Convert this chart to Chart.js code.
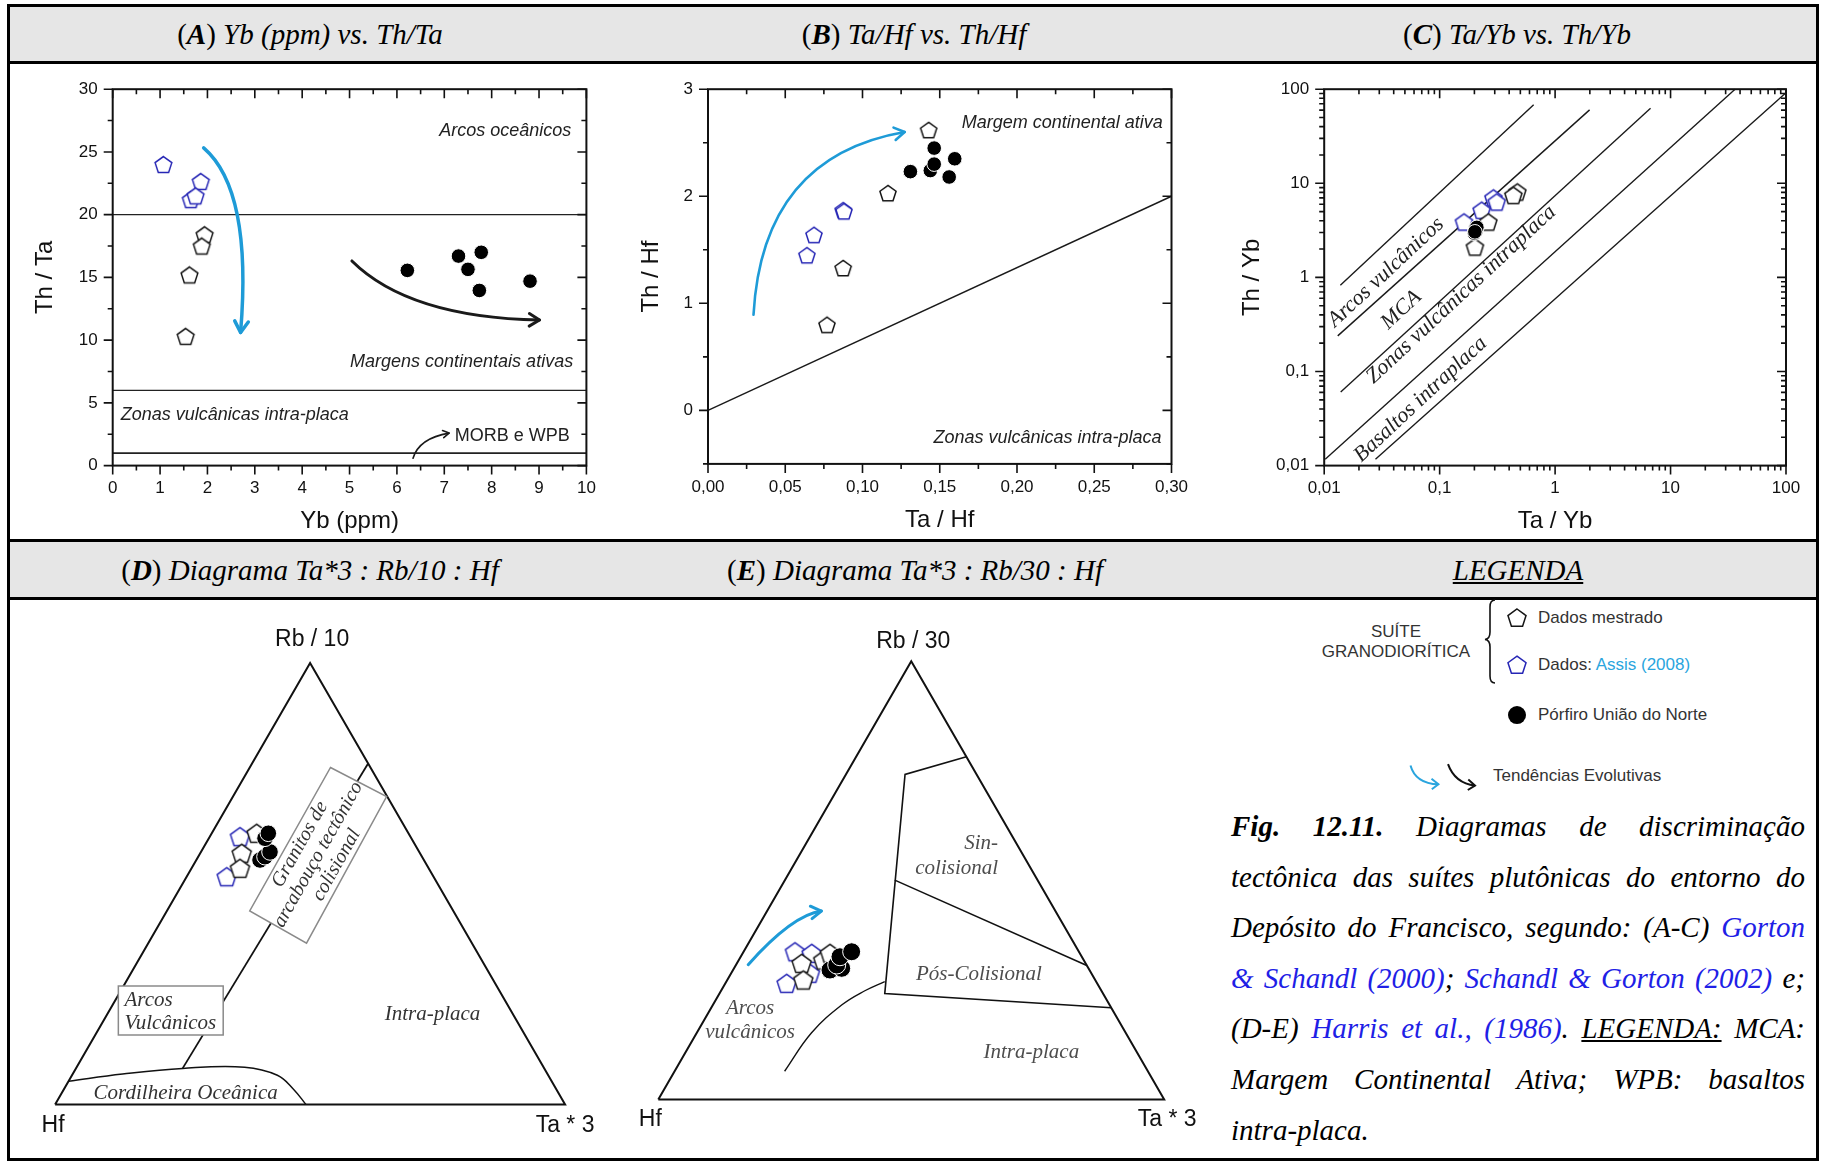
<!DOCTYPE html>
<html lang="pt">
<head>
<meta charset="utf-8">
<title>Fig. 12.11 - Diagramas de discriminação tectônica</title>
<script src="https://cdn.jsdelivr.net/npm/chart.js@4.4.1/dist/chart.umd.min.js"></script>
<style>
html,body{margin:0;padding:0;background:#fff;}
body{width:1825px;height:1161px;position:relative;overflow:hidden;font-family:"Liberation Sans",Arial,sans-serif;color:#111;}
#frame{position:absolute;left:7px;top:4px;width:1812px;height:1157px;border:3px solid #000;box-sizing:border-box;}
.band{position:absolute;left:10px;width:1806px;background:#e6e6e6;}
.rule{position:absolute;left:10px;width:1806px;height:3px;background:#000;}
.ht{position:absolute;width:600px;height:36px;line-height:36px;text-align:center;white-space:nowrap;font-family:"Liberation Serif","Times New Roman",serif;font-style:italic;font-size:29px;color:#000;}
.ht .p{font-style:normal;}
canvas{position:absolute;}
.lg{position:absolute;font-size:17px;color:#333;white-space:nowrap;line-height:20px;}
.cap{position:absolute;left:1231px;top:801px;width:574px;font-family:"Liberation Serif","Times New Roman",serif;font-style:italic;font-size:29px;line-height:50.6px;color:#000;}
.cap .j{text-align:justify;text-align-last:justify;}
.lk{color:#1f1fe6;}
</style>
</head>
<body>
<div class="band" style="top:7px;height:54px"></div>
<div class="rule" style="top:61px"></div>
<div class="rule" style="top:539px"></div>
<div class="band" style="top:542px;height:55px"></div>
<div class="rule" style="top:597px"></div>
<div id="frame"></div>

<div class="ht" style="left:10px;top:16px"><span class="p">(</span><b>A</b><span class="p">)</span> Yb (ppm) vs. Th/Ta</div>
<div class="ht" style="left:614px;top:16px"><span class="p">(</span><b>B</b><span class="p">)</span> Ta/Hf vs. Th/Hf</div>
<div class="ht" style="left:1217px;top:16px"><span class="p">(</span><b>C</b><span class="p">)</span> Ta/Yb vs. Th/Yb</div>
<div class="ht" style="left:10px;top:552px"><span class="p">(</span><b>D</b><span class="p">)</span> Diagrama Ta*3 : Rb/10 : Hf</div>
<div class="ht" style="left:615px;top:552px"><span class="p">(</span><b>E</b><span class="p">)</span> Diagrama Ta*3 : Rb/30 : Hf</div>
<div class="ht" style="left:1218px;top:552px"><u>LEGENDA</u></div>

<canvas id="cA"></canvas>
<canvas id="cB"></canvas>
<canvas id="cC"></canvas>
<canvas id="cD"></canvas>
<canvas id="cE"></canvas>

<!-- Legend -->
<div class="lg" style="left:1296px;top:622px;width:200px;text-align:center;">SUÍTE<br>GRANODIORÍTICA</div>
<svg style="position:absolute;left:1480px;top:597px" width="20" height="90">
  <path d="M15 3 Q10 3 10 10 L10 35 Q10 42 5 42.5 Q10 43 10 50 L10 79 Q10 86 15 86" fill="none" stroke="#111" stroke-width="1.6"/>
</svg>
<svg style="position:absolute;left:1400px;top:595px" width="200" height="200">
  <g transform="translate(117,23.5)"><polygon points="0,-9.5 9.035,-2.936 5.584,7.686 -5.584,7.686 -9.035,-2.936" fill="#fff" stroke="#151515" stroke-width="1.5"/></g>
  <g transform="translate(117,70.6)"><polygon points="0,-9.5 9.035,-2.936 5.584,7.686 -5.584,7.686 -9.035,-2.936" fill="#fff" stroke="#2626b5" stroke-width="1.5"/></g>
  <circle cx="117" cy="120.1" r="9" fill="#000"/>
  <path d="M10.5 170.4 Q15.5 188.5 38.4 189.3" fill="none" stroke="#2aa5de" stroke-width="2"/>
  <polyline points="31.5,183.8 38.4,189.3 31.8,194.3" fill="none" stroke="#2aa5de" stroke-width="2"/>
  <path d="M48 169.2 Q55 188.5 75 190.5" fill="none" stroke="#111" stroke-width="2"/>
  <polyline points="68.3,184.6 75,190.5 67.8,195" fill="none" stroke="#111" stroke-width="2"/>
</svg>
<div class="lg" style="left:1538px;top:608px">Dados mestrado</div>
<div class="lg" style="left:1538px;top:655px">Dados: <span style="color:#2aa5de">Assis (2008)</span></div>
<div class="lg" style="left:1538px;top:705px">Pórfiro União do Norte</div>
<div class="lg" style="left:1493px;top:766px">Tendências Evolutivas</div>

<div class="cap">
<div class="j"><b>Fig. 12.11.</b> Diagramas de discriminação</div>
<div class="j">tectônica das suítes plutônicas do entorno do</div>
<div class="j">Depósito do Francisco, segundo: (A-C) <span class="lk">Gorton</span></div>
<div class="j"><span class="lk">&amp; Schandl (2000)</span>; <span class="lk">Schandl &amp; Gorton (2002)</span> e;</div>
<div class="j">(D-E) <span class="lk">Harris et al., (1986)</span>. <u>LEGENDA:</u> MCA:</div>
<div class="j">Margem Continental Ativa; WPB: basaltos</div>
<div>intra-placa.</div>
</div>

<script>
// ======================= DATA =======================
// (A) Yb (ppm) vs. Th/Ta
const aMestradoYb   = [1.94, 1.88, 1.62, 1.54];
const aMestradoThTa = [18.4, 17.5, 15.2, 10.3];
const aAssisYb      = [1.07, 1.86, 1.65, 1.75];
const aAssisThTa    = [24.0, 22.65, 21.2, 21.5];
const aPorfiroYb    = [6.22, 7.30, 7.78, 7.50, 7.74, 8.81];
const aPorfiroThTa  = [15.56, 16.7, 17.0, 15.64, 13.96, 14.7];
const aLimitsThTa   = [20, 6, 1];
const aRangeYb      = [0, 10];
const aTickYb       = [0, 1, 2, 3, 4, 5, 6, 7, 8, 9, 10];
const aTickThTa     = [0, 5, 10, 15, 20, 25, 30];

// (B) Ta/Hf vs. Th/Hf
const bMestradoTaHf = [0.1428, 0.1165, 0.0875, 0.0770];
const bMestradoThHf = [2.62, 2.03, 1.33, 0.80];
const bAssisTaHf    = [0.0875, 0.0880, 0.0686, 0.0640];
const bAssisThHf    = [1.87, 1.86, 1.64, 1.45];
const bPorfiroTaHf  = [0.1310, 0.1439, 0.1464, 0.1464, 0.1597, 0.1561];
const bPorfiroThHf  = [2.23, 2.24, 2.30, 2.45, 2.35, 2.18];
const bLimitTaHf    = [0, 0.30];
const bLimitThHf    = [0, 2.0];
const bTickTaHf     = [0, 0.05, 0.10, 0.15, 0.20, 0.25, 0.30];
const bTickTaHfLbl  = ['0,00', '0,05', '0,10', '0,15', '0,20', '0,25', '0,30'];
const bTickThHf     = [0, 1, 2, 3];

// (C) Ta/Yb vs. Th/Yb (log-log)
const cMestradoTaYb = [0.471, 0.435, 0.264, 0.202];
const cMestradoThYb = [8.1, 7.47, 3.89, 2.11];
const cAssisTaYb    = [0.292, 0.312, 0.231, 0.1625];
const cAssisThYb    = [7.0, 6.34, 5.18, 3.89];
const cPorfiroTaYb  = [0.200, 0.203, 0.207, 0.205, 0.210, 0.202];
const cPorfiroThYb  = [2.95, 3.20, 3.15, 3.30, 3.40, 3.05];
const cLinesTaYb    = [[0.0138, 0.652], [0.0131, 1.99], [0.0139, 6.71], [0.0102, 36.2], [0.0278, 100]];
const cLinesThYb    = [[0.824, 68.4], [0.239, 60.3], [0.0605, 62.9], [0.0117, 100], [0.0117, 91.9]];
const cTicks        = [0.01, 0.1, 1, 10, 100];
const cTickLbl      = ['0,01', '0,1', '1', '10', '100'];

// (D) Ta*3 : Rb/10 : Hf   (fractions [Hf, Rb/10, Ta*3])
const dTriangle     = [[1, 0, 0], [0, 1, 0], [0, 0, 1], [1, 0, 0]];
const dLimit        = [[0.709, 0.082, 0.209], [0, 0.7725, 0.2275]];
const dCordilheira  = [[0.947, 0.053, 0], [0.833, 0.0693, 0.0977], [0.709, 0.082, 0.209], [0.586, 0.0846, 0.3294], [0.531, 0.0664, 0.4026], [0.515, 0.0344, 0.4506], [0.508, 0, 0.492]];
const dMestrado     = [[0.2976, 0.6143, 0.0881], [0.3496, 0.569, 0.0814], [0.370, 0.535, 0.095]];
const dAssis        = [[0.3342, 0.6066, 0.0592], [0.4055, 0.516, 0.0785]];
const dPorfiro      = [[0.3213, 0.5538, 0.1249], [0.3078, 0.5613, 0.1309], [0.2926, 0.572, 0.1354], [0.2869, 0.603, 0.1101], [0.2748, 0.6143, 0.1109]];

// (E) Ta*3 : Rb/30 : Hf   (fractions [Hf, Rb/30, Ta*3])
const eTriangle     = [[1, 0, 0], [0, 1, 0], [0, 0, 1], [1, 0, 0]];
const eLimitMain    = [[0, 0.782, 0.218], [0.1413, 0.7419, 0.1168], [0.4316, 0.2415, 0.3269], [0, 0.2092, 0.7908]];
const eLimitSinPos  = [[0.2823, 0.5005, 0.2172], [0, 0.3058, 0.6942]];
const eLimitArc     = [[0.7182, 0.0643, 0.2175], [0.6217, 0.1515, 0.2268], [0.529, 0.2159, 0.2551], [0.4677, 0.248, 0.2843], [0.4179, 0.269, 0.3131]];
const eAssis        = [[0.5613, 0.337, 0.1017], [0.530, 0.3334, 0.1365], [0.6138, 0.2649, 0.1213], [0.5563, 0.2878, 0.1559]];
const eMestrado     = [[0.5613, 0.3106, 0.1281], [0.5772, 0.2725, 0.1503], [0.5149, 0.3181, 0.167], [0.494, 0.3334, 0.1726]];
const ePorfiro      = [[0.513, 0.2953, 0.1917], [0.4879, 0.2992, 0.2129], [0.494, 0.3067, 0.1993], [0.4781, 0.3256, 0.1963], [0.4493, 0.337, 0.2137]];

// ======================= HELPERS =======================
const SQ3 = Math.sqrt(3) / 2;
const SANS = "'Liberation Sans', Arial, sans-serif";
const SERIF = "'Liberation Serif', 'Times New Roman', serif";
const BLUE_ARROW = '#1e9bd7';
Chart.defaults.font.family = SANS;
Chart.defaults.color = '#111';

function pairs(xs, ys) { return xs.map((x, i) => ({x: x, y: ys[i]})); }
function tern(p) { const s = p[0] + p[1] + p[2]; const rb = p[1] / s, ta = p[2] / s; return {x: ta + rb / 2, y: rb * SQ3}; }
function seq(a, b, s) { const r = []; for (let v = a; v <= b + 1e-9; v += s) r.push(+v.toFixed(6)); return r; }
function logMinor(decs) { const r = []; decs.forEach(d => { for (let k = 2; k <= 9; k++) r.push(+(d * k).toPrecision(6)); }); return r; }

function pentagon(r, color, lw) {
  const s = Math.ceil(2 * r + 2 * lw + 2);
  const c = document.createElement('canvas'); c.width = s; c.height = s;
  const g = c.getContext('2d');
  const cx = s / 2, cy = s / 2 + r * 0.095;
  g.beginPath();
  for (let k = 0; k < 5; k++) {
    const a = -Math.PI / 2 + k * 2 * Math.PI / 5;
    const px = cx + r * Math.cos(a), py = cy + r * Math.sin(a);
    if (k) g.lineTo(px, py); else g.moveTo(px, py);
  }
  g.closePath(); g.fillStyle = '#fff'; g.fill();
  g.lineWidth = lw; g.strokeStyle = color; g.lineJoin = 'miter'; g.stroke();
  return c;
}
function penSet(data, r, color, order, label, extra) {
  return Object.assign({label: label, data: data, pointStyle: pentagon(r, color, 1.5), pointRadius: r, showLine: false, order: order, clip: false}, extra || {});
}
function circSet(data, r, label) {
  return {label: label, data: data, pointStyle: 'circle', pointRadius: r, pointBackgroundColor: '#000', pointBorderColor: '#fff', pointBorderWidth: 1, showLine: false, order: 1, clip: false};
}
function lineSet(data, w, color, tension) {
  return {data: data, showLine: true, pointRadius: 0, borderColor: color || '#1a1a1a', borderWidth: w, tension: tension || 0, fill: false, order: 10, clip: false};
}

// tick-mark configuration per chart (drawn inside on top/right, outside on bottom/left)
const TICKS = {
  cA: {x: {maj: seq(0, 10, 1), min: seq(0.5, 9.5, 1)}, y: {maj: seq(0, 30, 5), min: seq(2.5, 27.5, 5)}},
  cB: {x: {maj: seq(0, 0.3, 0.05), min: seq(0.025, 0.275, 0.05)}, y: {maj: seq(0, 3, 1), min: seq(-0.5, 2.5, 1)}},
  cC: {x: {maj: cTicks, min: logMinor([0.01, 0.1, 1, 10])}, y: {maj: cTicks, min: logMinor([0.01, 0.1, 1, 10])}}
};

const fontItSans = "italic 18px " + SANS;
const fontSans = "18px " + SANS;
const fontItSerif = "italic 21px " + SERIF;
const ANNOTS = {
  cA: [
    {t: 'arrow', p0: [1.92, 25.32], c: [2.95, 21.97], p1: [2.70, 10.61], color: BLUE_ARROW, lw: 3.5, head: 13},
    {t: 'arrow', p0: [5.05, 16.31], c: [6.25, 11.82], p1: [9.01, 11.6], color: '#1a1a1a', lw: 3, head: 12},
    {t: 'arrow', p0: [6.34, 0.59], c: [6.47, 2.19], p1: [7.10, 2.59], color: '#1a1a1a', lw: 1.6, head: 7},
    {t: 'text', x: 9.68, y: 26.65, text: 'Arcos oceânicos', align: 'right', font: fontItSans},
    {t: 'text', x: 9.72, y: 8.26, text: 'Margens continentais ativas', align: 'right', font: fontItSans},
    {t: 'text', x: 0.17, y: 4.06, text: 'Zonas vulcânicas intra-placa', align: 'left', font: fontItSans},
    {t: 'text', x: 7.22, y: 2.32, text: 'MORB e WPB', align: 'left', font: fontSans}
  ],
  cB: [
    {t: 'arrow', p0: [0.02945, 0.893], c: [0.0352, 2.37], p1: [0.1273, 2.60], color: BLUE_ARROW, lw: 2.6, head: 12},
    {t: 'text', x: 0.2944, y: 2.68, text: 'Margem continental ativa', align: 'right', font: fontItSans},
    {t: 'text', x: 0.2936, y: -0.26, text: 'Zonas vulcânicas intra-placa', align: 'right', font: fontItSans}
  ],
  cC: [
    {t: 'text', x: 0.0343, y: 1.13, text: 'Arcos vulcânicos', rot: -43, font: "italic 22px " + SERIF},
    {t: 'text', x: 0.0466, y: 0.45, text: 'MCA', rot: -43, font: "italic 22px " + SERIF},
    {t: 'text', x: 0.1535, y: 0.656, text: 'Zonas vulcânicas intraplaca', rot: -43, font: "italic 22px " + SERIF},
    {t: 'text', x: 0.0684, y: 0.0504, text: 'Basaltos intraplaca', rot: -43, font: "italic 22px " + SERIF}
  ],
  cD: [
    {t: 'box', pts: [[0.540, 0.661], [0.650, 0.604], [0.493, 0.3166], [0.3816, 0.3798]], stroke: '#8a8a8a', lw: 1.5},
    {t: 'text', x: 0.516, y: 0.490, lines: ['Granitos de', 'arcabouço tectônico', 'colisional'], lh: 21, rot: -60.7, font: "italic 20px " + SERIF, color: '#333'},
    {t: 'box', pts: [[0.124, 0.2327], [0.3296, 0.2327], [0.3296, 0.1365], [0.124, 0.1365]], stroke: '#8a8a8a', lw: 1.5},
    {t: 'text', x: 0.136, y: 0.2035, text: 'Arcos', align: 'left', font: fontItSerif, color: '#333'},
    {t: 'text', x: 0.136, y: 0.160, text: 'Vulcânicos', align: 'left', font: fontItSerif, color: '#333'},
    {t: 'text', x: 0.740, y: 0.176, text: 'Intra-placa', font: fontItSerif, color: '#333'},
    {t: 'text', x: 0.256, y: 0.022, text: 'Cordilheira Oceânica', font: fontItSerif, color: '#333'},
    {t: 'text', x: 0.5, y: SQ3, dx: 2, dy: -23, text: 'Rb / 10', font: "23px " + SANS, color: '#111'},
    {t: 'text', x: 0, y: 0, dx: -2, dy: 21, text: 'Hf', font: "23px " + SANS, color: '#111'},
    {t: 'text', x: 1, y: 0, dx: 0, dy: 21, text: 'Ta * 3', font: "23px " + SANS, color: '#111'}
  ],
  cE: [
    {t: 'arrow', p0: [0.1777, 0.2664], c: [0.2654, 0.3645], p1: [0.3223, 0.3723], color: BLUE_ARROW, lw: 3, head: 12},
    {t: 'text', x: 0.6716, y: 0.505, text: 'Sin-', align: 'right', font: fontItSerif, color: '#4d4d4d'},
    {t: 'text', x: 0.6716, y: 0.4573, text: 'colisional', align: 'right', font: fontItSerif, color: '#4d4d4d'},
    {t: 'text', x: 0.6338, y: 0.2464, text: 'Pós-Colisional', font: fontItSerif, color: '#4d4d4d'},
    {t: 'text', x: 0.7374, y: 0.0931, text: 'Intra-placa', font: fontItSerif, color: '#4d4d4d'},
    {t: 'text', x: 0.1814, y: 0.1806, text: 'Arcos', font: fontItSerif, color: '#4d4d4d'},
    {t: 'text', x: 0.1814, y: 0.1328, text: 'vulcânicos', font: fontItSerif, color: '#4d4d4d'},
    {t: 'text', x: 0.5, y: SQ3, dx: 2, dy: -20, text: 'Rb / 30', font: "23px " + SANS, color: '#111'},
    {t: 'text', x: 0, y: 0, dx: -8, dy: 20, text: 'Hf', font: "23px " + SANS, color: '#111'},
    {t: 'text', x: 1, y: 0, dx: 3, dy: 20, text: 'Ta * 3', font: "23px " + SANS, color: '#111'}
  ]
};

function drawArrow(ctx, P0, C, P1, color, lw, head) {
  ctx.save();
  ctx.strokeStyle = color; ctx.lineWidth = lw; ctx.lineCap = 'round'; ctx.lineJoin = 'round';
  ctx.beginPath(); ctx.moveTo(P0.x, P0.y); ctx.quadraticCurveTo(C.x, C.y, P1.x, P1.y); ctx.stroke();
  const ang = Math.atan2(P1.y - C.y, P1.x - C.x);
  ctx.beginPath();
  ctx.moveTo(P1.x - head * Math.cos(ang - 0.55), P1.y - head * Math.sin(ang - 0.55));
  ctx.lineTo(P1.x, P1.y);
  ctx.lineTo(P1.x - head * Math.cos(ang + 0.55), P1.y - head * Math.sin(ang + 0.55));
  ctx.stroke();
  ctx.restore();
}
function drawText(ctx, px, py, a) {
  ctx.save();
  ctx.translate(px + (a.dx || 0), py + (a.dy || 0));
  if (a.rot) ctx.rotate(a.rot * Math.PI / 180);
  ctx.font = a.font; ctx.fillStyle = a.color || '#222';
  ctx.textAlign = a.align || 'center'; ctx.textBaseline = 'middle';
  const lines = a.lines || [a.text]; const lh = a.lh || 0;
  lines.forEach((l, i) => ctx.fillText(l, 0, (i - (lines.length - 1) / 2) * lh));
  ctx.restore();
}
function drawAnnots(chart) {
  const list = ANNOTS[chart.canvas.id] || [];
  const ctx = chart.ctx, xs = chart.scales.x, ys = chart.scales.y;
  const P = q => ({x: xs.getPixelForValue(q[0]), y: ys.getPixelForValue(q[1])});
  list.forEach(a => {
    if (a.t === 'arrow') drawArrow(ctx, P(a.p0), P(a.c), P(a.p1), a.color, a.lw, a.head);
    else if (a.t === 'box') {
      ctx.save(); ctx.beginPath();
      a.pts.forEach((q, i) => { const p = P(q); if (i) ctx.lineTo(p.x, p.y); else ctx.moveTo(p.x, p.y); });
      ctx.closePath(); ctx.fillStyle = '#fff'; ctx.fill();
      ctx.strokeStyle = a.stroke; ctx.lineWidth = a.lw; ctx.stroke(); ctx.restore();
    } else if (a.t === 'text') { const p = P([a.x, a.y]); drawText(ctx, p.x, p.y, a); }
  });
}
const annotPlugin = {
  id: 'annotLayer',
  beforeDatasetDraw(chart, args) {
    const ds = chart.data.datasets[args.index];
    if (ds && ds.annotBefore) drawAnnots(chart);
  }
};
const framePlugin = {
  id: 'frameTicks',
  afterDraw(chart) {
    const cfg = TICKS[chart.canvas.id]; if (!cfg) return;
    const ctx = chart.ctx, a = chart.chartArea, xs = chart.scales.x, ys = chart.scales.y;
    ctx.save();
    ctx.strokeStyle = '#111'; ctx.lineWidth = 2;
    ctx.strokeRect(a.left, a.top, a.right - a.left, a.bottom - a.top);
    ctx.lineWidth = 1.6;
    const L = {maj: 9, min: 5};
    ['maj', 'min'].forEach(k => {
      ctx.beginPath();
      cfg.x[k].forEach(v => { const p = xs.getPixelForValue(v);
        ctx.moveTo(p, a.bottom); ctx.lineTo(p, a.bottom + L[k]);
        ctx.moveTo(p, a.top); ctx.lineTo(p, a.top + L[k]); });
      cfg.y[k].forEach(v => { const p = ys.getPixelForValue(v);
        ctx.moveTo(a.left, p); ctx.lineTo(a.left - L[k], p);
        ctx.moveTo(a.right, p); ctx.lineTo(a.right - L[k], p); });
      ctx.stroke();
    });
    ctx.restore();
  }
};

function place(id, cell) {
  const cv = document.getElementById(id);
  cv.width = cell.w; cv.height = cell.h;
  cv.style.left = cell.l + 'px'; cv.style.top = cell.t + 'px';
  cv.style.width = cell.w + 'px'; cv.style.height = cell.h + 'px';
  return cv;
}
const baseOpts = {responsive: false, animation: false, events: [], devicePixelRatio: 1,
  plugins: {legend: {display: false}, tooltip: {enabled: false}}};

function cartChart(id, cell, area, xCfg, yCfg, datasets) {
  const cv = place(id, cell);
  const common = {grid: {display: false, drawTicks: false}, border: {display: false}};
  return new Chart(cv, {
    type: 'scatter',
    data: {datasets: datasets},
    options: Object.assign({}, baseOpts, {
      layout: {padding: {left: 0, top: area.t - cell.t, right: cell.l + cell.w - area.r, bottom: 0}},
      scales: {
        x: Object.assign({position: 'bottom', afterFit: s => { s.height = cell.t + cell.h - area.b; }}, common, xCfg),
        y: Object.assign({position: 'left', afterFit: s => { s.width = area.l - cell.l; }}, common, yCfg)
      }
    }),
    plugins: [annotPlugin, framePlugin]
  });
}
function ternChart(id, cell, area, datasets) {
  const cv = place(id, cell);
  return new Chart(cv, {
    type: 'scatter',
    data: {datasets: datasets},
    options: Object.assign({}, baseOpts, {
      layout: {padding: {left: area.l - cell.l, top: area.t - cell.t, right: cell.l + cell.w - area.r, bottom: cell.t + cell.h - area.b}},
      scales: {
        x: {type: 'linear', display: false, min: 0, max: 1},
        y: {type: 'linear', display: false, min: 0, max: SQ3}
      }
    }),
    plugins: [annotPlugin]
  });
}
function tickFont() { return {family: SANS, size: 17}; }
function titleFont() { return {family: SANS, size: 24}; }

// ======================= CHART A =======================
cartChart('cA', {l: 10, t: 64, w: 602, h: 475}, {l: 112.7, t: 79.2, r: 586.4, b: 465.6},
  {type: 'linear', min: 0, max: 10,
   afterBuildTicks: s => { s.ticks = aTickYb.map(v => ({value: v})); },
   ticks: {autoSkip: false, maxRotation: 0, padding: 13, color: '#111', font: tickFont(), callback: v => String(v)},
   title: {display: true, text: 'Yb (ppm)', color: '#111', font: titleFont(), padding: {top: 0, bottom: 3}}},
  {type: 'linear', min: 0, max: 30,
   afterBuildTicks: s => { s.ticks = aTickThTa.map(v => ({value: v})); },
   ticks: {autoSkip: false, padding: 15, color: '#111', font: tickFont(), callback: v => String(v)},
   title: {display: true, text: 'Th / Ta', color: '#111', font: titleFont(), padding: {top: 21, bottom: 0}}},
  [
    circSet(pairs(aPorfiroYb, aPorfiroThTa), 7.3, 'Pórfiro União do Norte'),
    penSet(pairs(aMestradoYb, aMestradoThTa), 8.8, '#151515', 2, 'Dados mestrado'),
    penSet(pairs(aAssisYb, aAssisThTa), 8.8, '#2626b5', 3, 'Dados: Assis (2008)', {annotBefore: true})
  ].concat(aLimitsThTa.map((v, i) => lineSet([{x: aRangeYb[0], y: v}, {x: aRangeYb[1], y: v}], i === 2 ? 1.8 : 1.3, '#222')))
);

// ======================= CHART B =======================
cartChart('cB', {l: 612, t: 64, w: 602, h: 475}, {l: 708, t: 86.1, r: 1171.5, b: 463.9},
  {type: 'linear', min: 0, max: 0.30,
   afterBuildTicks: s => { s.ticks = bTickTaHf.map(v => ({value: v})); },
   ticks: {autoSkip: false, maxRotation: 0, padding: 13, color: '#111', font: tickFont(), callback: (v, i) => bTickTaHfLbl[i]},
   title: {display: true, text: 'Ta / Hf', color: '#111', font: titleFont(), padding: {top: 0, bottom: 4.6}}},
  {type: 'linear', min: -0.5, max: 3,
   afterBuildTicks: s => { s.ticks = bTickThHf.map(v => ({value: v})); },
   ticks: {autoSkip: false, padding: 15, color: '#111', font: tickFont(), callback: v => String(v)},
   title: {display: true, text: 'Th / Hf', color: '#111', font: titleFont(), padding: {top: 25, bottom: 0}}},
  [
    circSet(pairs(bPorfiroTaHf, bPorfiroThHf), 7.3, 'Pórfiro União do Norte'),
    penSet(pairs(bMestradoTaHf, bMestradoThHf), 8.5, '#151515', 2, 'Dados mestrado'),
    penSet(pairs(bAssisTaHf, bAssisThHf), 8.5, '#2626b5', 3, 'Dados: Assis (2008)', {annotBefore: true}),
    lineSet(pairs(bLimitTaHf, bLimitThHf), 1.4, '#1a1a1a')
  ]
);

// ======================= CHART C =======================
cartChart('cC', {l: 1214, t: 64, w: 602, h: 475}, {l: 1324.2, t: 88.9, r: 1786, b: 465.6},
  {type: 'logarithmic', min: 0.01, max: 100,
   afterBuildTicks: s => { s.ticks = cTicks.map(v => ({value: v})); },
   ticks: {autoSkip: false, maxRotation: 0, padding: 13, color: '#111', font: tickFont(), callback: (v, i) => cTickLbl[i]},
   title: {display: true, text: 'Ta / Yb', color: '#111', font: titleFont(), padding: {top: 0, bottom: 2.8}}},
  {type: 'logarithmic', min: 0.01, max: 100,
   afterBuildTicks: s => { s.ticks = cTicks.map(v => ({value: v})); },
   ticks: {autoSkip: false, padding: 15, color: '#111', font: tickFont(), callback: (v, i) => cTickLbl[i]},
   title: {display: true, text: 'Th / Yb', color: '#111', font: titleFont(), padding: {top: 24.4, bottom: 0}}},
  [
    circSet(pairs(cPorfiroTaYb, cPorfiroThYb), 7.3, 'Pórfiro União do Norte'),
    penSet(pairs(cMestradoTaYb, cMestradoThYb), 9, '#151515', 2, 'Dados mestrado'),
    penSet(pairs(cAssisTaYb, cAssisThYb), 9, '#2626b5', 3, 'Dados: Assis (2008)', {annotBefore: true})
  ].concat(cLinesTaYb.map((xs, i) => lineSet(pairs(xs, cLinesThYb[i]), 1.4, '#1a1a1a')))
);

// ======================= CHART D =======================
ternChart('cD', {l: 10, t: 600, w: 602, h: 558}, {l: 55.1, r: 565.1, b: 1104.6, t: 1104.6 - 510 * SQ3}, [
  circSet(dPorfiro.map(tern), 8.3, 'Pórfiro União do Norte'),
  penSet(dMestrado.map(tern), 10, '#151515', 2, 'Dados mestrado'),
  penSet(dAssis.map(tern), 10, '#2626b5', 3, 'Dados: Assis (2008)', {annotBefore: true}),
  lineSet(dTriangle.map(tern), 2, '#111'),
  lineSet(dLimit.map(tern), 1.8, '#111'),
  lineSet(dCordilheira.map(tern), 1.5, '#111', 0.4)
]);

// ======================= CHART E =======================
ternChart('cE', {l: 612, t: 600, w: 602, h: 558}, {l: 658.3, r: 1164.2, b: 1099.4, t: 1099.4 - 505.9 * SQ3}, [
  circSet(ePorfiro.map(tern), 9, 'Pórfiro União do Norte'),
  penSet(eMestrado.map(tern), 10, '#151515', 2, 'Dados mestrado'),
  penSet(eAssis.map(tern), 10, '#2626b5', 3, 'Dados: Assis (2008)', {annotBefore: true}),
  lineSet(eTriangle.map(tern), 2, '#111'),
  lineSet(eLimitMain.map(tern), 1.6, '#111'),
  lineSet(eLimitSinPos.map(tern), 1.6, '#111'),
  lineSet(eLimitArc.map(tern), 1.4, '#111', 0.4)
]);
</script>
</body>
</html>
